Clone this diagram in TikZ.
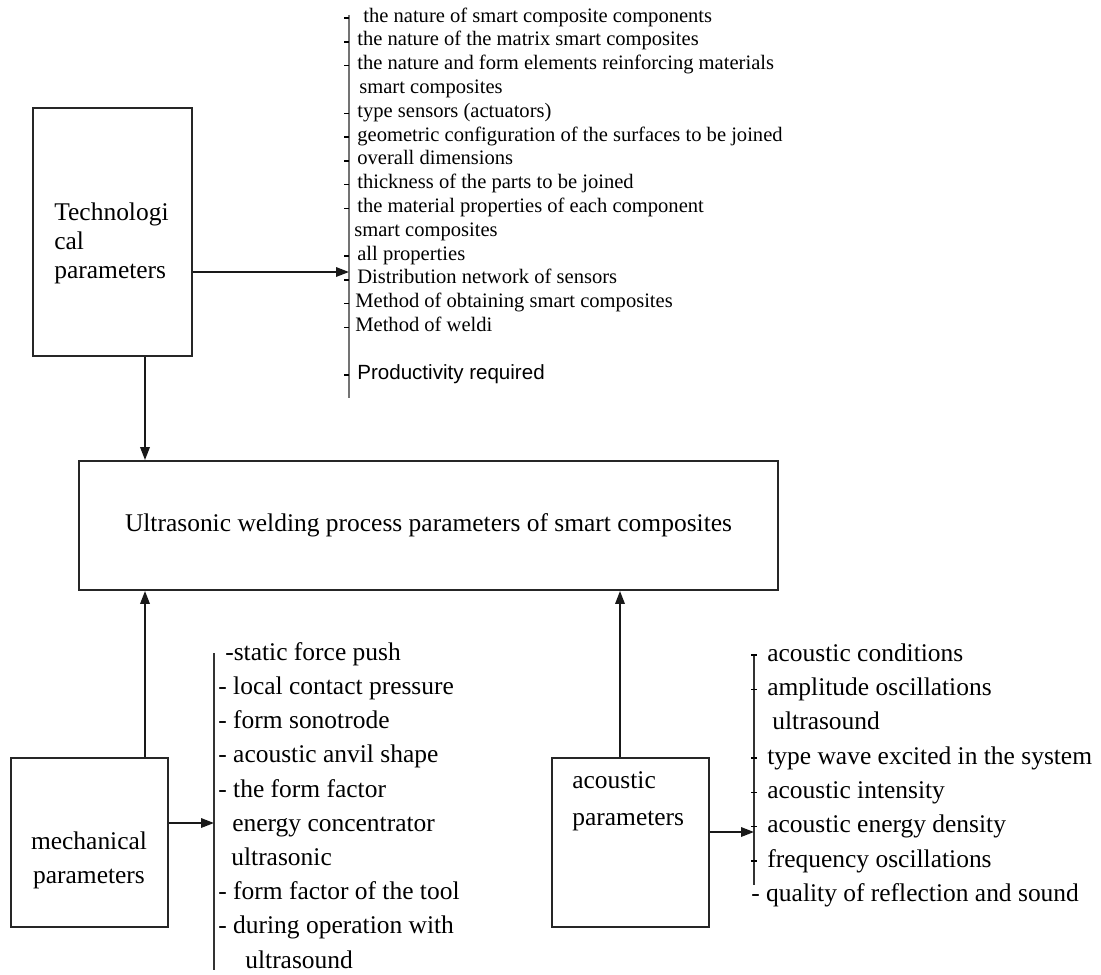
\documentclass[tikz,border=0pt]{standalone}
\usepackage{fontspec}
\setmainfont{Liberation Serif}
\newfontfamily\sansfont{Liberation Sans}
\usetikzlibrary{arrows.meta}

\tikzset{
  parbox/.style={draw=black!85, line width=1.1pt, inner sep=0pt},
  bigfont/.style={font=\fontsize{14.5}{20}\selectfont, inner sep=0pt},
  listfont/.style={font=\fontsize{11.7}{13.4}\selectfont, inner sep=0pt, anchor=west,
    text height=8.4pt, text depth=2.6pt},
  itemfont/.style={font=\fontsize{14.5}{20}\selectfont, inner sep=0pt, anchor=west,
    text height=10.4pt, text depth=3.2pt},
  feed/.style={draw=black!90, line width=1pt, -{Triangle[length=2.6mm,width=1.9mm]}},
  bar/.style={draw=black!80, line width=1.2pt},
}

\begin{document}
\begin{tikzpicture}[x=0.02cm, y=-0.02cm]
  \useasboundingbox (0,0) rectangle (1101,974);
  \def\tickpaw{5}
  \newcommand\tickL[1]{% {<y>} tick left of the technology bar
    \draw[line width=0.8pt] (349,#1) -- ++(-\tickpaw,0);
  }
  \newcommand\tickX[1]{% {<y>} tick across the acoustic bar
    \draw[line width=0.8pt] (754,#1) +(-3,0) -- +(3,0);
  }

  % boxes
  \node[parbox, minimum width=3.18cm, minimum height=4.96cm] (tech) at (112.5,232) {};
  \node[bigfont, align=left, anchor=west, font=\fontsize{14.5}{16.5}\selectfont] (techtxt) at (54,243) {Technologi\\cal\\parameters};
  \node[parbox, bigfont, draw=black!85, minimum width=13.98cm, minimum height=2.58cm] (main) at (428.5,525.5)
    {Ultrasonic welding process parameters of smart composites};
  \node[parbox, minimum width=3.14cm, minimum height=3.38cm] (mech) at (89.5,842.5) {};
  \node[bigfont, align=center, font=\fontsize{14.5}{19.4}\selectfont] (mechtxt) at (89,860) {mechanical\\parameters};
  \node[parbox, minimum width=3.14cm, minimum height=3.38cm] (acou) at (630.5,842.5) {};
  \node[bigfont, align=left, anchor=west, font=\fontsize{14.5}{21}\selectfont] (acoutxt) at (572,801.5) {acoustic\\parameters};

  % bars
  \draw[bar, draw=black!55, line width=1.7pt] (349,15) -- (349,398);
  \draw[bar] (214,653) -- (214,970);
  \draw[bar] (754,655) -- (754,885);

  \coordinate (techbar) at (349,272);
  \coordinate (mechbar) at (214,823);
  \coordinate (acoubar) at (754,832);
  \coordinate (leftcol) at (145,0);
  \coordinate (rightcol) at (620,0);

  % arrows
  \draw[feed] (techbar -| tech.east) -- (techbar);
  \draw[feed] (tech.south -| leftcol) -- (main.north -| leftcol);
  \draw[feed] (mech.north -| leftcol) -- (main.south -| leftcol);
  \draw[feed] (mechbar -| mech.east) -- (mechbar);
  \draw[feed] (acou.north -| rightcol) -- (main.south -| rightcol);
  \draw[feed] (acoubar -| acou.east) -- (acoubar);

  % technological list
  \node[listfont] (t1) at (363,17) {the nature of smart composite components};
  \node[listfont] (t2) at (357,40.8) {the nature of the matrix smart composites};
  \node[listfont] (t3) at (357,64.6) {the nature and form elements reinforcing materials};
  \node[listfont] (t4) at (359,88.4) {smart composites};
  \node[listfont] (t5) at (357,112.2) {type sensors (actuators)};
  \node[listfont] (t6) at (357,136) {geometric configuration of the surfaces to be joined};
  \node[listfont] (t7) at (357,159.8) {overall dimensions};
  \node[listfont] (t8) at (357,183.6) {thickness of the parts to be joined};
  \node[listfont] (t9) at (357,207.4) {the material properties of each component};
  \node[listfont] (t10) at (354,231.2) {smart composites};
  \node[listfont] (t11) at (357,255) {all properties};
  \node[listfont] (t12) at (357,278.8) {Distribution network of sensors};
  \node[listfont] (t13) at (355,302.6) {Method of obtaining smart composites};
  \node[listfont] (t14) at (355,326.4) {Method of weldi};
  \node[listfont, font=\sansfont\fontsize{11.7}{13.4}\selectfont] (t16) at (357,374) {Productivity required};
  \foreach \y in {18,41.8,65.6,113.2,137,160.8,184.6,208.4,256,279.8,303.6,327.4,375}
    \tickL{\y};

  % mechanical list
  \node[itemfont] (m1) at (225,654) {-static force push};
  \node[itemfont] (m2) at (218,688.2) {- local contact pressure};
  \node[itemfont] (m3) at (218,722.4) {- form sonotrode};
  \node[itemfont] (m4) at (218,756.6) {- acoustic anvil shape};
  \node[itemfont] (m5) at (218,790.8) {- the form factor};
  \node[itemfont] (m6) at (232,825) {energy concentrator};
  \node[itemfont] (m7) at (231,859.2) {ultrasonic};
  \node[itemfont] (m8) at (218,893.4) {- form factor of the tool};
  \node[itemfont] (m9) at (218,927.6) {- during operation with};
  \node[itemfont] (m10) at (245,961.8) {ultrasound};

  % acoustic list
  \node[itemfont] (a1) at (767,655) {acoustic conditions};
  \node[itemfont] (a2) at (767,689.3) {amplitude oscillations};
  \node[itemfont] (a3) at (772,723.6) {ultrasound};
  \node[itemfont] (a4) at (767,757.9) {type wave excited in the system};
  \node[itemfont] (a5) at (767,792.2) {acoustic intensity};
  \node[itemfont] (a6) at (767,826.5) {acoustic energy density};
  \node[itemfont] (a7) at (767,860.8) {frequency oscillations};
  \node[itemfont] (a8) at (751,895.1) {- quality of reflection and sound};
  \foreach \y in {655,689.3,757.9,792.2,826.5,860.8}
    \tickX{\y};
\end{tikzpicture}
\end{document}
